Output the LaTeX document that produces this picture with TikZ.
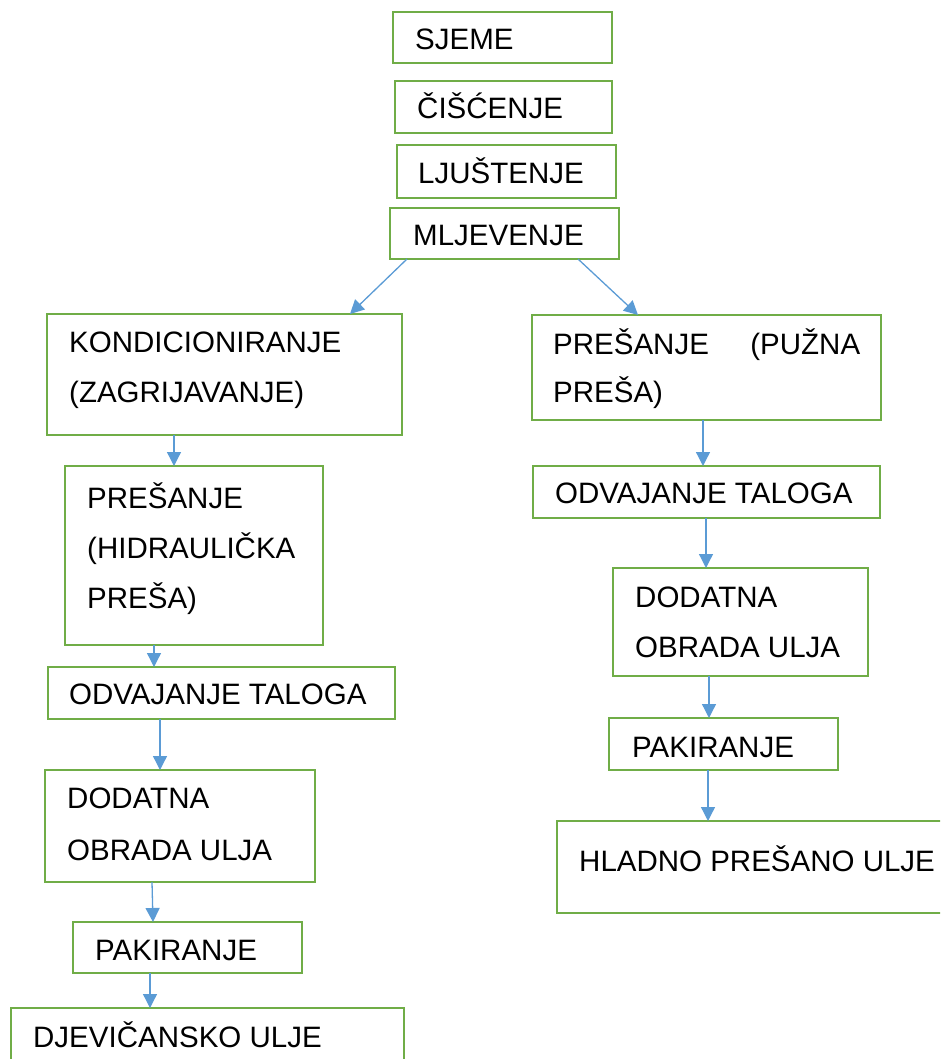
\documentclass[tikz,border=0pt]{standalone}
\usepackage{fontspec}
\setmainfont{Liberation Sans}
\usetikzlibrary{arrows.meta}
\definecolor{boxgreen}{HTML}{70AD47}
\definecolor{flowblue}{HTML}{5B9BD5}

\begin{document}
\begin{tikzpicture}[x=1pt,y=-1pt]
\tikzset{
	box/.style={draw=boxgreen, line width=2.8pt, rectangle, anchor=north west,
		inner sep=0pt, outer sep=0pt},
	txt/.style={anchor=base west, inner sep=0pt, align=left,
		font=\fontsize{29.5}{50}\selectfont},
	flow/.style={draw=flowblue, line width=1.3pt, -{Triangle[length=14pt,width=14pt]}}
}
\useasboundingbox (0,0) rectangle (940,1059);
\clip (0,0) rectangle (940,1059);

% top chain
\node[box, minimum width=219pt, minimum height=51pt] (sjeme) at (393,12) {};
\node[txt] (sjeme-t) at (415,50) {SJEME};
\node[box, minimum width=217pt, minimum height=52pt] (ciscenje) at (395,81) {};
\node[txt] (ciscenje-t) at (417,119) {ČIŠĆENJE};
\node[box, minimum width=219pt, minimum height=53pt] (ljustenje) at (397,145) {};
\node[txt] (ljustenje-t) at (418,184) {LJUŠTENJE};
\node[box, minimum width=229pt, minimum height=51pt] (mljevenje) at (390,208) {};
\node[txt] (mljevenje-t) at (413,246) {MLJEVENJE};

% left branch (multi-line labels sit on their last baseline)
\node[box, minimum width=355pt, minimum height=121pt] (kond) at (47,314) {};
\node[txt] (kond-t) at (69,402) {KONDICIONIRANJE\\(ZAGRIJAVANJE)};
\node[box, minimum width=258pt, minimum height=179pt] (hidr) at (65,466) {};
\node[txt] (hidr-t) at (87,608) {PREŠANJE\\(HIDRAULIČKA\\PREŠA)};
\node[box, minimum width=347pt, minimum height=52pt] (odvL) at (48,667) {};
\node[txt] (odvL-t) at (69,704) {ODVAJANJE TALOGA};
\node[box, minimum width=270pt, minimum height=112pt] (dodL) at (45,770) {};
\node[txt, font=\fontsize{29.5}{52}\selectfont] (dodL-t) at (67,860) {DODATNA\\OBRADA ULJA};
\node[box, minimum width=229pt, minimum height=51pt] (pakL) at (73,922) {};
\node[txt] (pakL-t) at (95,960) {PAKIRANJE};
\node[box, minimum width=393pt, minimum height=80pt] (djev) at (11,1008) {};
\node[txt] (djev-t) at (33,1047) {DJEVIČANSKO ULJE};

% right branch
\node[box, minimum width=349pt, minimum height=105pt] (puzna) at (532,315) {};
\node[txt, font=\fontsize{29.5}{48}\selectfont] (puzna-t) at (553,402)
	{\makebox[307pt][s]{PREŠANJE (PUŽNA}\\PREŠA)};
\node[box, minimum width=347pt, minimum height=52pt] (odvR) at (533,466) {};
\node[txt] (odvR-t) at (555,503) {ODVAJANJE TALOGA};
\node[box, minimum width=255pt, minimum height=108pt] (dodR) at (613,568) {};
\node[txt] (dodR-t) at (635,657) {DODATNA\\OBRADA ULJA};
\node[box, minimum width=229pt, minimum height=52pt] (pakR) at (609,718) {};
\node[txt] (pakR-t) at (632,757) {PAKIRANJE};
\node[box, minimum width=400pt, minimum height=92pt] (hladno) at (557,821) {};
\node[txt] (hladno-t) at (579,871) {HLADNO PREŠANO ULJE};

% arrows
\draw[flow] ([xshift=17pt]mljevenje.south west) -- ([xshift=303pt]kond.north west);
\draw[flow] ([xshift=188pt]mljevenje.south west) -- ([xshift=106pt]puzna.north west);
\draw[flow] ([xshift=127pt]kond.south west) -- ([xshift=109pt]hidr.north west);
\draw[flow] ([xshift=89pt]hidr.south west) -- ([xshift=106pt]odvL.north west);
\draw[flow] ([xshift=112pt]odvL.south west) -- ([xshift=115pt]dodL.north west);
\draw[flow] ([xshift=107pt]dodL.south west) -- ([xshift=80pt]pakL.north west);
\draw[flow] ([xshift=77pt]pakL.south west) -- ([xshift=139pt]djev.north west);
\draw[flow] ([xshift=171pt]puzna.south west) -- ([xshift=170pt]odvR.north west);
\draw[flow] ([xshift=173pt]odvR.south west) -- ([xshift=93pt]dodR.north west);
\draw[flow] ([xshift=96pt]dodR.south west) -- ([xshift=100pt]pakR.north west);
\draw[flow] ([xshift=99pt]pakR.south west) -- ([xshift=151pt]hladno.north west);
\end{tikzpicture}
\end{document}
